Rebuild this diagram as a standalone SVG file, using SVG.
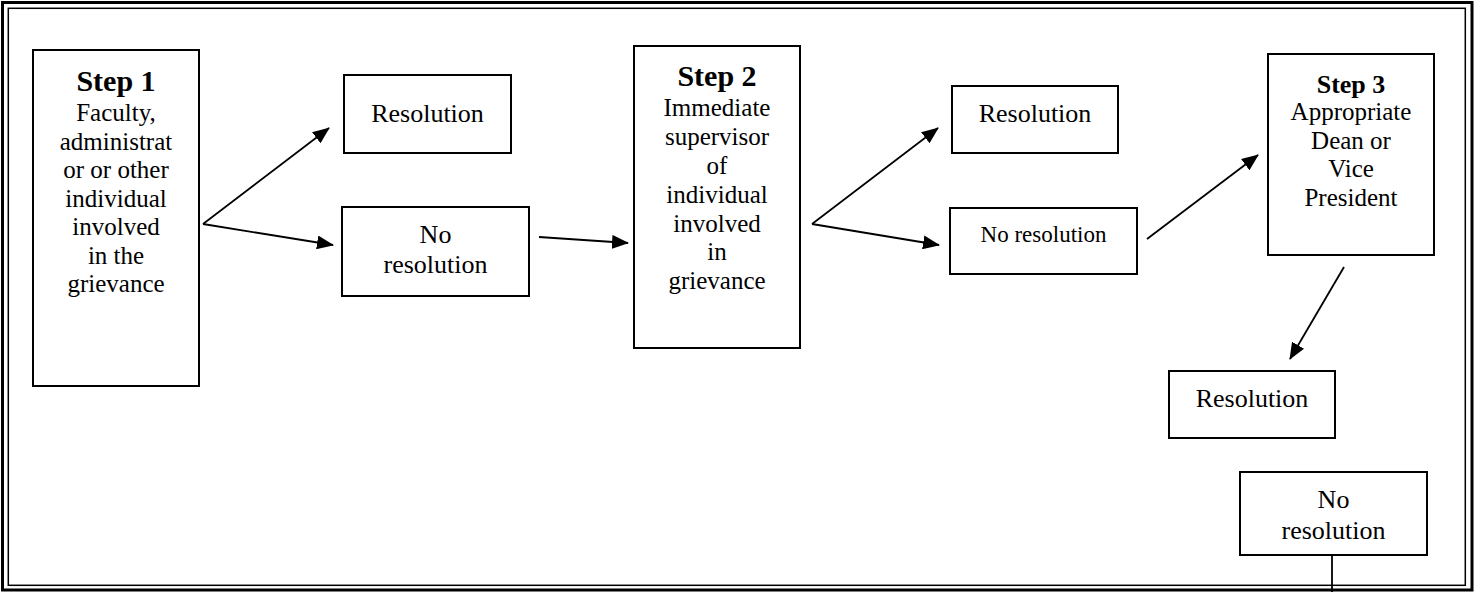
<svg xmlns="http://www.w3.org/2000/svg" width="1474" height="592" viewBox="0 0 1474 592">
<style>
text{font-family:"Liberation Serif","Times New Roman",serif;fill:#000;text-anchor:middle}
.b{font-weight:bold}
.box{fill:#fff;stroke:#000;stroke-width:2}
.t{font-size:25px}
.r{font-size:26px}
.c{stroke:#000;stroke-width:1.8;fill:none}
</style>
<defs>
<marker id="ah" viewBox="0 0 17 14" refX="16" refY="7" markerWidth="17" markerHeight="14" markerUnits="userSpaceOnUse" orient="auto">
<path d="M0,0 L17,7 L0,14 z" fill="#000"/>
</marker>
</defs>
<rect width="1474" height="592" fill="#fff"/>
<rect x="2.5" y="2.5" width="1469.5" height="587.5" fill="none" stroke="#000" stroke-width="3"/>
<rect x="8.3" y="8.3" width="1457" height="577" fill="none" stroke="#000" stroke-width="1.5"/>

<g id="step1">
<rect class="box" x="33" y="50" width="166" height="336"/>
<text class="b" x="116" y="91" font-size="30">Step 1</text>
<text class="t" x="116" y="121">Faculty,</text>
<text class="t" x="116" y="149.5">administrat</text>
<text class="t" x="116" y="178">or or other</text>
<text class="t" x="116" y="206.5">individual</text>
<text class="t" x="116" y="235">involved</text>
<text class="t" x="116" y="263.5">in the</text>
<text class="t" x="116" y="292">grievance</text>
</g>
<g id="res1">
<rect class="box" x="344" y="75" width="167" height="78"/>
<text class="r" x="427.5" y="122">Resolution</text>
</g>
<g id="nores1">
<rect class="box" x="342" y="207" width="187" height="89"/>
<text class="r" x="435.5" y="243">No</text>
<text class="r" x="435.5" y="273">resolution</text>
</g>
<g id="step2">
<rect class="box" x="634" y="46" width="166" height="302"/>
<text class="b" x="717" y="86" font-size="30">Step 2</text>
<text class="t" x="717" y="116">Immediate</text>
<text class="t" x="717" y="145">supervisor</text>
<text class="t" x="717" y="174">of</text>
<text class="t" x="717" y="203">individual</text>
<text class="t" x="717" y="232">involved</text>
<text class="t" x="717" y="260">in</text>
<text class="t" x="717" y="289">grievance</text>
</g>
<g id="res2">
<rect class="box" x="952" y="86" width="166" height="67"/>
<text class="r" x="1035" y="122">Resolution</text>
</g>
<g id="nores2">
<rect class="box" x="950" y="208" width="187" height="66"/>
<text x="1043.5" y="242" font-size="23">No resolution</text>
</g>
<g id="step3">
<rect class="box" x="1268" y="54" width="166" height="201"/>
<text class="b" x="1351" y="93" font-size="26">Step 3</text>
<text class="t" x="1351" y="120">Appropriate</text>
<text class="t" x="1351" y="149">Dean or</text>
<text class="t" x="1351" y="177">Vice</text>
<text class="t" x="1351" y="206">President</text>
</g>
<g id="res3">
<rect class="box" x="1169" y="371" width="166" height="67"/>
<text class="r" x="1252" y="407">Resolution</text>
</g>
<g id="nores3">
<rect class="box" x="1240" y="472" width="187" height="83"/>
<text class="r" x="1333.5" y="508">No</text>
<text class="r" x="1333.5" y="539">resolution</text>
</g>

<g id="connectors">
<line class="c" x1="203" y1="224" x2="329" y2="128" marker-end="url(#ah)"/>
<line class="c" x1="203" y1="224" x2="333" y2="245" marker-end="url(#ah)"/>
<line class="c" x1="539" y1="237" x2="628" y2="243" marker-end="url(#ah)"/>
<line class="c" x1="812" y1="224" x2="938" y2="128" marker-end="url(#ah)"/>
<line class="c" x1="812" y1="224" x2="939" y2="245" marker-end="url(#ah)"/>
<line class="c" x1="1147" y1="239" x2="1258" y2="155" marker-end="url(#ah)"/>
<line class="c" x1="1344" y1="267" x2="1290" y2="359" marker-end="url(#ah)"/>
<line class="c" x1="1332" y1="555" x2="1332" y2="592"/>
</g>
</svg>
